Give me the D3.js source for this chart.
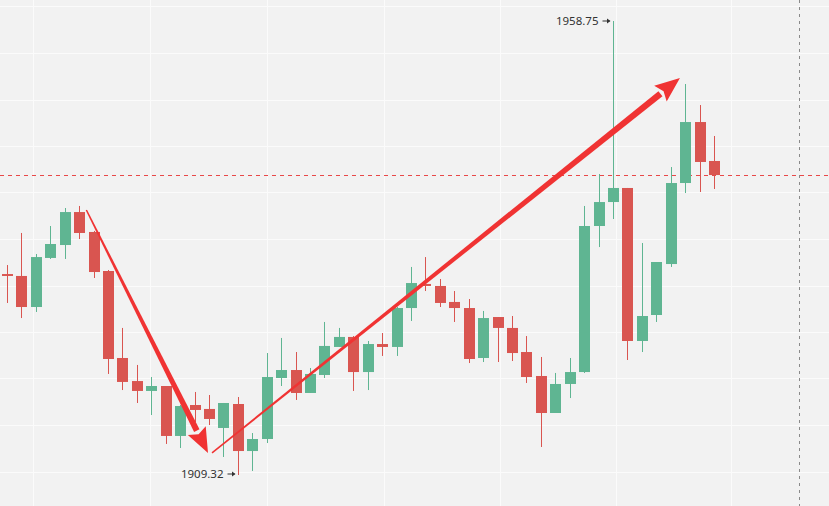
<!DOCTYPE html>
<html>
<head>
<meta charset="utf-8">
<script src="https://cdn.jsdelivr.net/npm/d3@7"></script>
<style>
  html, body { margin: 0; padding: 0; background: #f2f2f2; }
  svg { display: block; }
</style>
</head>
<body>
<svg id="chart" width="829" height="506"></svg>
<script>
// ---------- DATA ----------
const opens  = [1931.20,1930.99,1927.61,1932.95,1934.36,1937.95,1935.78,1931.53,1922.06,1919.55,
                1918.47,1919.01,1913.57,1916.94,1916.51,1914.44,1917.05,1911.93,1913.24,1919.88,
                1920.75,1918.25,1920.21,1923.26,1924.35,1920.53,1923.58,1923.26,1927.50,1930.12,
                1929.90,1928.16,1927.50,1922.06,1926.52,1925.33,1922.71,1920.10,1916.07,1919.23,
                1920.53,1936.43,1939.04,1940.57,1923.91,1926.74,1932.29,1941.11,1947.75,1943.51];
const highs  = [1932.18,1935.67,1933.38,1936.43,1938.39,1938.61,1935.89,1931.64,1925.33,1921.30,
                1919.99,1919.01,1916.94,1918.36,1918.03,1917.16,1917.81,1913.89,1922.60,1924.24,
                1922.71,1920.97,1925.98,1925.33,1924.45,1923.91,1924.78,1927.61,1931.97,1933.05,
                1930.66,1929.35,1928.48,1927.18,1926.52,1926.63,1924.45,1922.17,1920.43,1922.06,
                1938.61,1942.09,1958.75,1940.57,1934.58,1932.51,1942.85,1951.89,1949.60,1946.23];
const lows   = [1928.05,1926.41,1927.07,1932.84,1932.84,1935.01,1930.77,1920.32,1918.57,1917.16,
                1915.85,1912.70,1912.26,1915.09,1914.76,1911.28,1909.32,1909.76,1912.80,1919.01,
                1917.49,1918.25,1919.88,1923.26,1918.47,1918.57,1922.28,1922.28,1926.09,1929.35,
                1927.61,1925.98,1921.51,1921.62,1921.62,1921.73,1919.34,1912.37,1916.07,1917.70,
                1920.43,1934.14,1937.19,1921.84,1922.71,1925.98,1931.97,1940.02,1940.13,1940.46];
const closes = [1930.99,1927.61,1933.05,1934.47,1937.95,1935.67,1931.42,1921.95,1919.45,1918.47,
                1919.01,1913.57,1916.83,1916.40,1915.42,1917.16,1911.93,1913.24,1919.99,1920.75,
                1918.25,1920.32,1923.37,1924.35,1920.53,1923.58,1923.26,1927.50,1930.22,1929.90,
                1928.05,1927.50,1921.95,1926.41,1925.33,1922.60,1919.99,1916.07,1919.23,1920.53,
                1936.43,1939.04,1940.57,1923.91,1926.63,1932.51,1941.11,1947.75,1943.40,1941.98];

const priceGridTicks = [1960.33,1955.27,1950.20,1945.14,1940.08,1935.02,1929.95,1924.89,1919.83,1914.76,1909.70];
const timeGridTicks  = [1.8, 9.9, 18.0, 26.1, 34.2, 42.2, 50.2];

const highLabel = "1958.75";
const lowLabel  = "1909.32";
const lastPrice = 1941.98;
const crosshairIndex = 54.9;

// trend arrows: [startIndex, startPrice, endIndex, endPrice]
const arrowDown = [5.5, 1938.17, 13.93, 1911.72];
const arrowUp   = [14.21, 1911.72, 46.64, 1952.54];

// ---------- CHART ----------
const W = 829, H = 506;
const svg = d3.select("#chart");
const candles = opens.map((o, i) => ({ i, o, h: highs[i], l: lows[i], c: closes[i] }));

const x = d3.scaleLinear().domain([0, 49]).range([7, 714]);
const y = d3.scaleLinear().domain([1909.32, 1958.75]).range([475, 21]);

const GREEN = "#5fb592", RED = "#d95550";

svg.append("rect").attr("width", W).attr("height", H).attr("fill", "#f2f2f2");

// grid
svg.append("g").selectAll("line").data(priceGridTicks).join("line")
  .attr("x1", 0).attr("x2", W)
  .attr("y1", d => Math.round(y(d)) + 0.5).attr("y2", d => Math.round(y(d)) + 0.5)
  .attr("stroke", "#fbfbfb").attr("stroke-width", 1);
svg.append("g").selectAll("line").data(timeGridTicks).join("line")
  .attr("y1", 0).attr("y2", H)
  .attr("x1", d => Math.round(x(d)) + 0.5).attr("x2", d => Math.round(x(d)) + 0.5)
  .attr("stroke", "#fbfbfb").attr("stroke-width", 1);

// last price line
svg.append("line")
  .attr("x1", 0).attr("x2", W)
  .attr("y1", Math.round(y(lastPrice)) + 0.5).attr("y2", Math.round(y(lastPrice)) + 0.5)
  .attr("stroke", "#e84848").attr("stroke-width", 1).attr("stroke-dasharray", "4,4");

// crosshair vertical
svg.append("line")
  .attr("x1", Math.round(x(crosshairIndex)) + 0.5).attr("x2", Math.round(x(crosshairIndex)) + 0.5)
  .attr("y1", 0).attr("y2", H)
  .attr("stroke", "#8a8a8a").attr("stroke-width", 1).attr("stroke-dasharray", "3,4");

// candles
const bw = 11;
const g = svg.append("g");
const cg = g.selectAll("g").data(candles).join("g");
cg.append("line")
  .attr("x1", d => Math.round(x(d.i)) + 0.5).attr("x2", d => Math.round(x(d.i)) + 0.5)
  .attr("y1", d => y(d.h)).attr("y2", d => y(d.l))
  .attr("stroke", d => d.c >= d.o ? GREEN : RED).attr("stroke-width", 1);
cg.append("rect")
  .attr("x", d => Math.round(x(d.i)) + 0.5 - bw / 2)
  .attr("width", bw)
  .attr("y", d => y(Math.max(d.o, d.c)))
  .attr("height", d => Math.max(1.5, Math.abs(y(d.o) - y(d.c))))
  .attr("fill", d => d.c >= d.o ? GREEN : RED);

// arrows (tapered shaft + head)
function drawArrow(a, w0, w1, headLen, headW) {
  const x0 = x(a[0]), y0 = y(a[1]), x1 = x(a[2]), y1 = y(a[3]);
  const dx = x1 - x0, dy = y1 - y0, len = Math.hypot(dx, dy);
  const ux = dx / len, uy = dy / len, nx = -uy, ny = ux;
  const bx = x1 - ux * headLen, by = y1 - uy * headLen;
  const shaft = [
    [x0 + nx * w0 / 2, y0 + ny * w0 / 2],
    [bx + nx * w1 / 2, by + ny * w1 / 2],
    [bx - nx * w1 / 2, by - ny * w1 / 2],
    [x0 - nx * w0 / 2, y0 - ny * w0 / 2]
  ];
  const head = [
    [x1, y1],
    [bx + nx * headW / 2, by + ny * headW / 2],
    [bx + ux * 4, by + uy * 4],
    [bx - nx * headW / 2, by - ny * headW / 2]
  ];
  const line = d3.line();
  svg.append("path").attr("d", line(shaft) + "Z").attr("fill", "#f03333");
  svg.append("path").attr("d", line(head) + "Z").attr("fill", "#f03333");
}
drawArrow(arrowDown, 1.5, 6, 25, 20);
drawArrow(arrowUp, 1.5, 6.5, 25, 20);

// high/low labels
function label(idx, price, text, dyBase) {
  const cx = Math.round(x(idx)) + 0.5;
  const ty = y(price) + dyBase;
  svg.append("text")
    .attr("x", cx - 15).attr("y", ty)
    .attr("text-anchor", "end")
    .attr("font-family", "'Noto Sans', 'DejaVu Sans', sans-serif")
    .attr("font-size", 11.5).attr("fill", "#333")
    .text(text);
  const ay = y(price) + dyBase - 4;
  svg.append("line").attr("x1", cx - 11).attr("x2", cx - 4).attr("y1", ay).attr("y2", ay)
    .attr("stroke", "#333").attr("stroke-width", 1);
  svg.append("path")
    .attr("d", `M${cx - 3},${ay} L${cx - 6.5},${ay - 2.5} L${cx - 6.5},${ay + 2.5} Z`)
    .attr("fill", "#333");
}
const hiIdx = highs.indexOf(d3.max(highs));
const loIdx = lows.indexOf(d3.min(lows));
label(hiIdx, highs[hiIdx], highLabel, 4);
label(loIdx, lows[loIdx], lowLabel, 3);
</script>
</body>
</html>
